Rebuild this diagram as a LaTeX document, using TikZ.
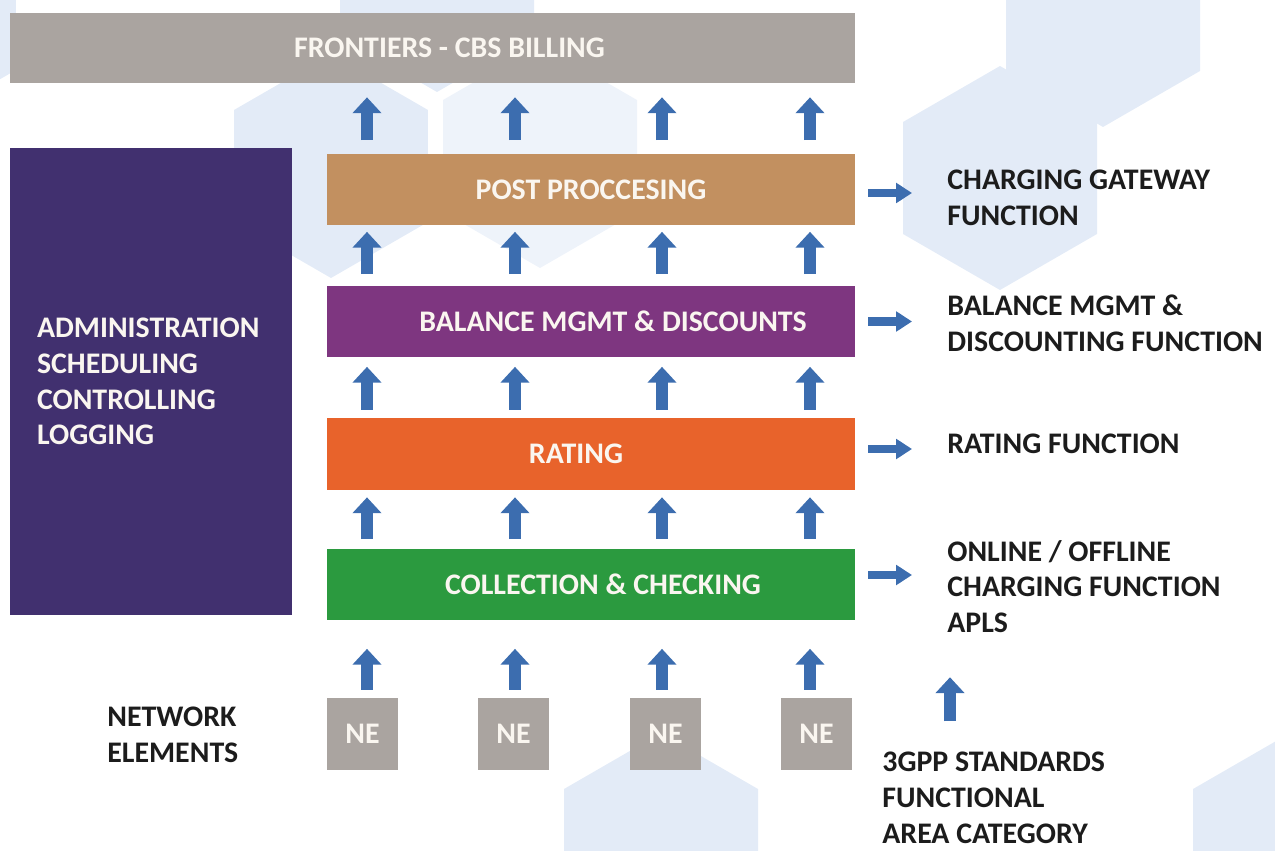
\documentclass[tikz,border=0pt]{standalone}
\usepackage{fontspec}
\setmainfont{Carlito}
\usetikzlibrary{positioning,arrows.meta}

\definecolor{topgray}{HTML}{AAA4A0}
\definecolor{adminpurple}{HTML}{41306F}
\definecolor{postbrown}{HTML}{C29060}
\definecolor{balpurple}{HTML}{7E3680}
\definecolor{ratingorange}{HTML}{E8632B}
\definecolor{collgreen}{HTML}{2B9A3F}
\definecolor{negray}{HTML}{AAA4A0}
\definecolor{arrowblue}{HTML}{3C6DAF}
\definecolor{boxtext}{HTML}{FAF6F0}
\definecolor{labeltext}{HTML}{1C1C1C}
\definecolor{hexblue}{HTML}{E3EBF7}
\definecolor{hexlight}{HTML}{EEF3FA}

\begin{document}
\begin{tikzpicture}[x=0.02cm, y=-0.02cm,
    every node/.style={font=\fontsize{17}{20.4}\selectfont\bfseries},
    layer/.style={minimum width=10.56cm, minimum height=1.44cm, inner sep=0pt, text=boxtext},
    nebox/.style={fill=negray, minimum width=1.42cm, minimum height=1.44cm, inner sep=0pt, text=boxtext},
    func/.style={anchor=west, align=left, inner sep=0pt, text=labeltext},
    uparrow/.style={draw=arrowblue, line width=6.5pt, -{Triangle[width=16pt,length=9pt]}},
    rarrow/.style={draw=arrowblue, line width=5pt, -{Triangle[width=11pt,length=9pt]}}]
  \useasboundingbox (0,0) rectangle (1275,851);
  % background hexagons
  \begin{scope}
    \clip (0,0) rectangle (1275,851);
    \foreach \cx/\cy/\col in {437/-20/hexblue, 331/166/hexblue, 540/156/hexlight, 1103/15/hexblue,
        1000/178/hexblue, 661/845/hexblue, 1290/845/hexblue, -81/14/hexblue}
      \fill[\col] (\cx,\cy) +(90:112) -- +(30:112) -- +(-30:112) -- +(-90:112) -- +(-150:112) -- +(150:112) -- cycle;
  \end{scope}

  % layers
  \node[layer, fill=topgray, minimum width=16.9cm, minimum height=1.4cm] (top) at (432.5,48) {\hspace*{0.68cm}FRONTIERS - CBS BILLING};
  \node[layer, fill=postbrown] (post) at (591,189.5) {POST PROCCESING};
  \node[layer, fill=balpurple] (bal) at (591,321.5) {\hspace*{0.88cm}BALANCE MGMT \& DISCOUNTS};
  \node[layer, fill=ratingorange] (rating) at (591,454) {RATING\hspace*{0.6cm}};
  \node[layer, fill=collgreen] (coll) at (591,584.5) {\hspace*{0.48cm}COLLECTION \& CHECKING};
  \node[fill=adminpurple, minimum width=5.64cm, minimum height=9.34cm, text width=4.56cm,
    align=left, inner xsep=0.54cm, inner ysep=0pt, text=boxtext] (admin) at (151,381.5)
    {ADMINISTRATION\\SCHEDULING\\CONTROLLING\\LOGGING};

  % network elements
  \foreach \x [count=\i] in {362.5,513.5,665.5,816.5}
    \node[nebox] (ne\i) at (\x,734) {NE};
  \node[func] (netel) at (107,735) {NETWORK\\ELEMENTS};

  % functions
  \node[func] (cgf) at (947,198) {CHARGING GATEWAY\\FUNCTION};
  \node[func] (bdf) at (947,323) {BALANCE MGMT \&\\DISCOUNTING FUNCTION};
  \node[func] (rf) at (947,444) {RATING FUNCTION};
  \node[func] (ocf) at (947,586.5) {ONLINE / OFFLINE\\CHARGING FUNCTION\\APLS};
  \node[func] (tgpp) at (882,798) {3GPP STANDARDS\\FUNCTIONAL\\AREA CATEGORY};

  % upward flow
  \foreach \x [count=\i] in {367,515,662,810} {
    \coordinate (col\i) at (\x,0);
    \draw[uparrow, shorten <=0.16cm, shorten >=0.56cm] (ne\i.north -| col\i) -- (coll.south -| col\i);
    \foreach \lo/\hi/\sa/\sb in {coll/rating/0.18/0.14, rating/bal/0.16/0.18, bal/post/0.22/0.12, post/top/0.26/0.28}
      \draw[uparrow, shorten <=\sa cm, shorten >=\sb cm] (\lo.north -| col\i) -- (\hi.south -| col\i);
  }
  \coordinate (col5) at (950,0);
  \draw[uparrow, shorten <=0.61cm, shorten >=0.88cm] (tgpp.north -| col5) -- (ocf.south -| col5);

  % outputs to the right
  \draw[rarrow, shorten <=0.26cm, shorten >=0.7cm] ([yshift=-0.07cm]post.east) -- ([yshift=-0.07cm]post.east -| cgf.west);
  \draw[rarrow, shorten <=0.26cm, shorten >=0.7cm] (bal.east) -- (bal.east -| bdf.west);
  \draw[rarrow, shorten <=0.26cm, shorten >=0.7cm] ([yshift=0.1cm]rating.east) -- ([yshift=0.1cm]rating.east -| rf.west);
  \draw[rarrow, shorten <=0.26cm, shorten >=0.7cm] ([yshift=0.19cm]coll.east) -- ([yshift=0.19cm]coll.east -| ocf.west);
\end{tikzpicture}
\end{document}
